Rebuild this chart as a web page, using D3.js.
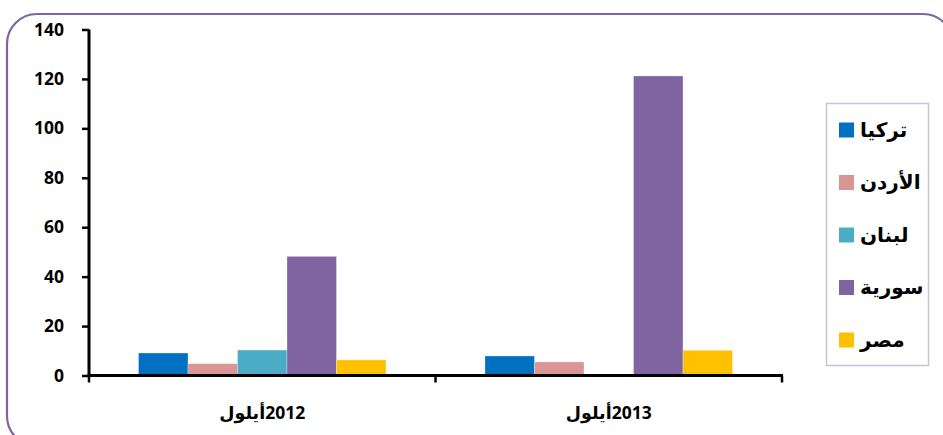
<!DOCTYPE html>
<meta charset="utf-8">
<head>
    <script src="https://d3js.org/d3.v7.min.js"></script>
    <style>
        body { margin: 0; background: #fff; }
        .tick text { font-family: "Open Sans", "DejaVu Sans", sans-serif; font-weight: 700; font-size: 17.5px; fill: #000; }
    </style>
</head>
<body>
    <div id="graph"></div>
<script>
    // data
    var categories = ["2012أيلول", "2013أيلول"];
    var countries = ["تركيا", "الأردن", "لبنان", "سورية", "مصر"];
    var colors = ["#0070C0", "#DA9694", "#4BACC6", "#8064A2", "#FFC000"];
    var turkey  = [9.1, 7.9];
    var jordan  = [4.8, 5.5];
    var lebanon = [10.3, 0];
    var syria   = [48.2, 121.2];
    var egypt   = [6.3, 10.2];
    var yTicks = [0, 20, 40, 60, 80, 100, 120, 140];

    var series = [turkey, jordan, lebanon, syria, egypt];

    var W = 943, H = 435;
    var margin = {top: 29.5, left: 89, right: 161, bottom: 59.5};
    var width = W - margin.left - margin.right,
        height = H - margin.top - margin.bottom;

    var svg = d3.select("#graph")
      .append("svg")
        .attr("width", W)
        .attr("height", H);

    // outer rounded frame
    svg.append("rect")
        .attr("x", 7).attr("y", 14)
        .attr("width", 946).attr("height", 432)
        .attr("rx", 30).attr("ry", 30)
        .attr("fill", "none")
        .attr("stroke", "#8064A2")
        .attr("stroke-width", 2.2);

    var g = svg.append("g")
        .attr("transform", "translate(" + margin.left + "," + margin.top + ")");

    var x0 = d3.scaleBand()
        .domain(categories)
        .range([0, width])
        .padding(0);

    var x1 = d3.scaleBand()
        .domain(countries)
        .range([0, x0.bandwidth()])
        .paddingInner(0)
        .paddingOuter(1);

    var y = d3.scaleLinear()
        .domain([0, 140])
        .range([height, 0]);

    // bars
    var groups = g.selectAll(".grp")
        .data(categories)
        .enter().append("g")
        .attr("transform", function(d) { return "translate(" + x0(d) + ",0)"; });

    groups.selectAll("rect")
        .data(function(c, ci) {
            return countries.map(function(k, i) { return {k: k, i: i, v: series[i][ci]}; });
        })
        .enter().append("rect")
        .filter(function(d) { return d.v > 0; })
        .attr("x", function(d) { return x1(d.k); })
        .attr("y", function(d) { return y(d.v); })
        .attr("width", x1.bandwidth())
        .attr("height", function(d) { return height - y(d.v); })
        .attr("fill", function(d) { return colors[d.i]; })
        .attr("stroke", "#fff")
        .attr("stroke-opacity", 0.5)
        .attr("stroke-width", 0.6);

    // y axis
    var yAxis = g.append("g")
        .call(d3.axisLeft(y).tickValues(yTicks).tickSize(7).tickPadding(18));
    yAxis.attr("font-family", null).attr("font-size", null);
    yAxis.select(".domain").attr("stroke-width", 3).attr("d", "M0," + height + "V0");
    yAxis.selectAll(".tick line").attr("stroke-width", 2.5);

    // x axis
    var xAxisG = g.append("g")
        .attr("transform", "translate(0," + height + ")");
    xAxisG.append("line")
        .attr("x1", -1.5).attr("x2", width + 1)
        .attr("stroke", "#000").attr("stroke-width", 3);
    var bounds = [0].concat(categories.map(function(c) { return x0(c) + x0.bandwidth(); }));
    xAxisG.selectAll(".xt")
        .data(bounds)
        .enter().append("line")
        .attr("x1", function(d) { return d; }).attr("x2", function(d) { return d; })
        .attr("y1", 0).attr("y2", 7)
        .attr("stroke", "#000").attr("stroke-width", 2.5);

    xAxisG.selectAll(".xl")
        .data(categories)
        .enter().append("text")
        .attr("x", function(d) { return x0(d) + x0.bandwidth() / 2; })
        .attr("y", 43)
        .attr("direction", "rtl")
        .style("direction", "rtl")
        .attr("text-anchor", "middle")
        .style("font-family", "'Open Sans', 'DejaVu Sans', sans-serif")
        .style("font-weight", "700")
        .style("font-size", "17.5px")
        .text(function(d) { return d; });

    // legend
    var lg = svg.append("g");
    lg.append("rect")
        .attr("x", 826.5).attr("y", 103.5)
        .attr("width", 102).attr("height", 262)
        .attr("fill", "#fff")
        .attr("stroke", "#CCC1DA")
        .attr("stroke-width", 1.5);

    var items = lg.selectAll(".li")
        .data(countries)
        .enter().append("g")
        .attr("transform", function(d, i) { return "translate(839," + (130 + i * 52.5) + ")"; });
    items.append("rect")
        .attr("x", 0).attr("y", -7.5)
        .attr("width", 15).attr("height", 15)
        .attr("fill", function(d, i) { return colors[i]; });
    items.append("text")
        .attr("x", 21).attr("y", 6.5)
        .style("font-family", "'DejaVu Sans', sans-serif")
        .style("font-weight", "700")
        .style("font-size", "20px")
        .text(function(d) { return d; });
</script>
</body>
